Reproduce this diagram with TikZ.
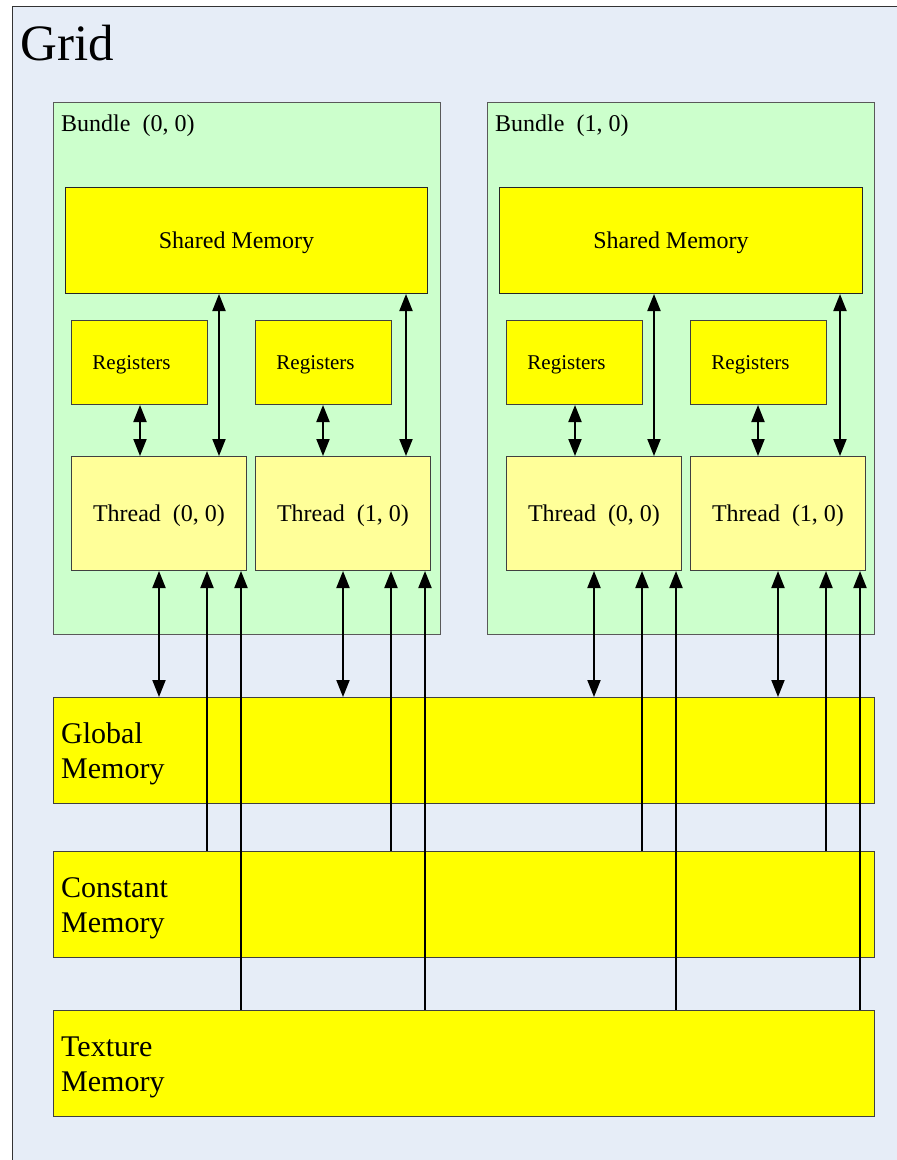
\documentclass[tikz,border=0pt]{standalone}
\usepackage{fontspec}
\setmainfont{Liberation Serif}
\usetikzlibrary{arrows.meta}
\definecolor{gridbg}{HTML}{E6EDF7}
\definecolor{bundlebg}{HTML}{CCFFCC}
\definecolor{memyellow}{HTML}{FFFF00}
\definecolor{threadbg}{HTML}{FFFF99}
\begin{document}
\begin{tikzpicture}[x=1pt,y=-1pt,
  >={Triangle[length=17pt,width=13pt]},
  box/.style={draw, anchor=north west, inner sep=0pt, line width=1pt},
  gridbox/.style={box, draw=black!80, fill=gridbg},
  bundlebox/.style={box, draw=black!65, fill=bundlebg},
  sharedbox/.style={box, draw=black!85, fill=memyellow, minimum width=362pt, minimum height=106pt,
     font=\fontsize{24}{28}\selectfont, text depth=0pt},
  regbox/.style={box, draw=black!75, fill=memyellow, minimum width=136pt, minimum height=84pt,
     font=\fontsize{21}{25}\selectfont, text depth=0pt},
  threadbox/.style={box, draw=black!75, fill=threadbg, minimum width=175pt, minimum height=114pt,
     font=\fontsize{24}{28}\selectfont, text depth=0pt},
  membox/.style={box, draw=black!75, fill=memyellow, minimum width=821pt, minimum height=106pt},
  memlabel/.style={anchor=base west, inner sep=0pt, align=left, font=\fontsize{30}{35}\selectfont},
  bundlelabel/.style={anchor=base west, inner sep=0pt, font=\fontsize{24}{28}\selectfont},
  arr/.style={line width=2pt, black},
]
\useasboundingbox (0,0) rectangle (897,1160);
\clip (0,0) rectangle (897,1160);
\fill[white] (0,0) rectangle (897,1160);

% grid
\node[gridbox, minimum width=920pt, minimum height=1200pt] (G) at (12,6) {};
\node[anchor=base west, inner sep=0pt, font=\fontsize{51}{56}\selectfont] (Glabel) at (20,60) {Grid};

% bundles
\node[bundlebox, minimum width=387pt, minimum height=532pt] (B0) at (53,102) {};
\node[bundlebox, minimum width=387pt, minimum height=532pt] (B1) at (487,102) {};
\node[bundlelabel] (B0l) at (61,131) {Bundle~~(0, 0)};
\node[bundlelabel] (B1l) at (495,131) {Bundle~~(1, 0)};

% shared memories
\node[sharedbox] (S0) at (65,187) {\hspace*{-20pt}Shared Memory};
\node[sharedbox, minimum width=363pt] (S1) at (499,187) {\hspace*{-20pt}Shared Memory};

% registers
\node[regbox] (R00) at (71,320) {\hspace*{-16pt}Registers};
\node[regbox] (R01) at (255,320) {\hspace*{-16pt}Registers};
\node[regbox] (R10) at (506,320) {\hspace*{-16pt}Registers};
\node[regbox] (R11) at (690,320) {\hspace*{-16pt}Registers};

% threads
\node[threadbox] (T00) at (71,456) {Thread~~(0, 0)};
\node[threadbox] (T01) at (255,456) {Thread~~(1, 0)};
\node[threadbox] (T10) at (506,456) {Thread~~(0, 0)};
\node[threadbox] (T11) at (690,456) {Thread~~(1, 0)};

% memories
\node[membox] (GM) at (53,697) {};
\node[membox] (CM) at (53,851) {};
\node[membox] (TM) at (53,1010) {};
\node[memlabel] (GMl) at (61,778) {Global\\Memory};
\node[memlabel] (CMl) at (61,932) {Constant\\Memory};
\node[memlabel] (TMl) at (61,1091) {Texture\\Memory};

% arrows inside bundles
\foreach \r/\s/\t/\xr/\xs in {R00/S0/T00/140/219, R01/S0/T01/323/406, R10/S1/T10/575/654, R11/S1/T11/758/840}{
  \coordinate (cr) at (\xr,0);
  \coordinate (cs) at (\xs,0);
  \draw[arr, <->] (\r.south -| cr) -- (\t.north -| cr);
  \draw[arr, <->] (\s.south -| cs) -- (\t.north -| cs);
}

% arrows to memories
\foreach \t/\xg/\xc/\xt in {T00/159/207/241, T01/343/391/425, T10/594/642/676, T11/778/826/860}{
  \coordinate (cg) at (\xg,0);
  \coordinate (cc) at (\xc,0);
  \coordinate (ct) at (\xt,0);
  \draw[arr, <->] (\t.south -| cg) -- (GM.north -| cg);
  \draw[arr, <-] (\t.south -| cc) -- (CM.north -| cc);
  \draw[arr, <-] (\t.south -| ct) -- (TM.north -| ct);
}
\end{tikzpicture}
\end{document}
